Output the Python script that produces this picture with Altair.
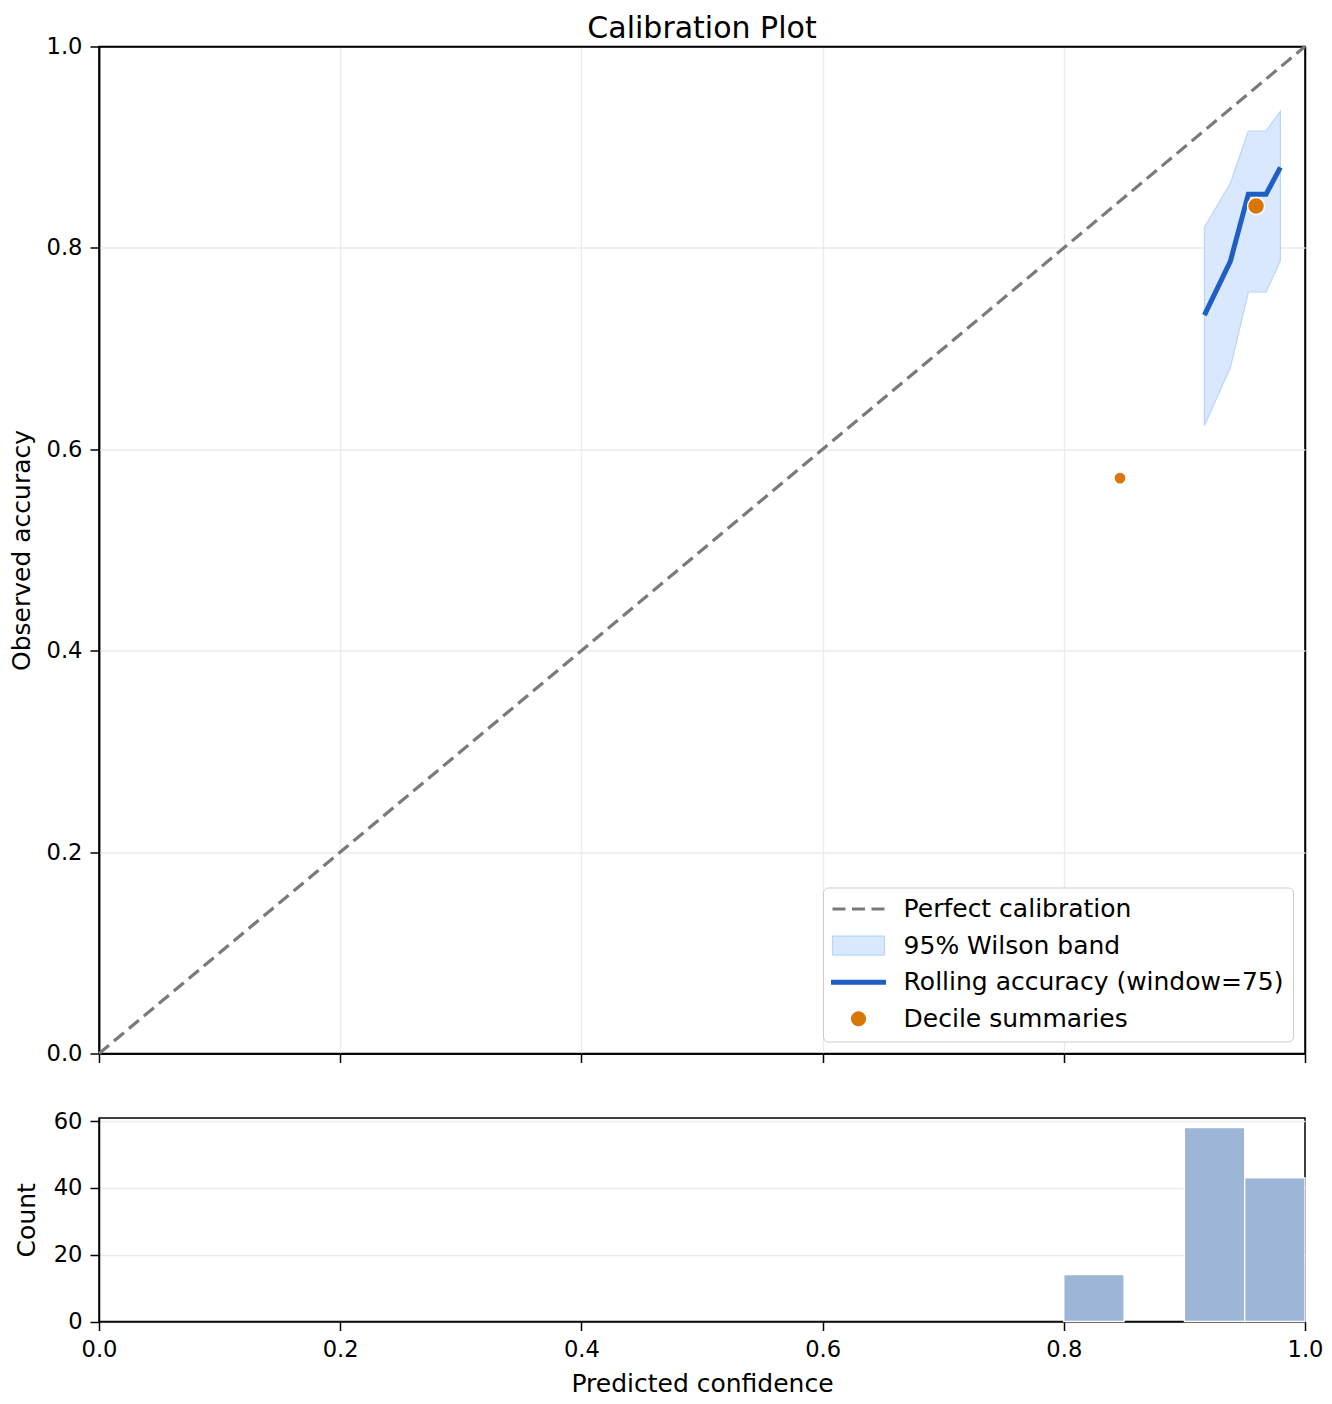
import altair as alt
import pandas as pd

# ---------------- data ----------------
series = ["Perfect calibration", "95% Wilson band",
          "Rolling accuracy (window=75)", "Decile summaries"]

diag_x = [0.0, 1.0]
diag_y = [0.0, 1.0]

roll_conf = [0.9166, 0.9381, 0.9530, 0.9677, 0.9796]
roll_acc = [0.7333, 0.7867, 0.8533, 0.8533, 0.8800]
wilson_lo = [0.6237, 0.6812, 0.7562, 0.7562, 0.7874]
wilson_hi = [0.8203, 0.8642, 0.9161, 0.9161, 0.9356]

decile_conf = [0.8466, 0.9594]
decile_acc = [0.5714, 0.8416]
decile_n = [14, 101]

bin_start = [0.80, 0.90, 0.95]
bin_end = [0.85, 0.95, 1.00]
bin_count = [14, 58, 43]

tick_vals = [0.0, 0.2, 0.4, 0.6, 0.8, 1.0]
count_ticks = [0, 20, 40, 60]

# ---------------- styling ----------------
FONT = "DejaVu Sans"
GRAY = "#7a7a7a"
BAND_FILL = "#d9e8fc"
BAND_EDGE = "#b9d5f8"
BLUE = "#1f5fc4"
ORANGE = "#d97706"
HIST = "#9db5d6"
GRID = "#ebebeb"

diag_df = pd.DataFrame({"x": diag_x, "y": diag_y})
roll_df = pd.DataFrame({"x": roll_conf, "y": roll_acc, "lo": wilson_lo, "hi": wilson_hi})
dec_df = pd.DataFrame({"x": decile_conf, "y": decile_acc, "n": decile_n})
hist_df = pd.DataFrame({"x": bin_start, "x2": bin_end, "count": bin_count})
leg_df = pd.DataFrame({"series": series})

# grid lines on the frame edges are drawn black so they act as the spines
edge_color = {"condition": {"test": "datum.value >= 0.999 || datum.value <= 0.001", "value": "black"},
              "value": GRID}
edge_width = {"condition": {"test": "datum.value >= 0.999 || datum.value <= 0.001", "value": 1.5},
              "value": 1.3}


def xenc(field="x"):
    return alt.X(f"{field}:Q", scale=alt.Scale(domain=[0, 1], nice=False, zero=False),
                 axis=alt.Axis(values=tick_vals, labels=False, title=None, grid=True,
                               gridColor=edge_color, gridWidth=edge_width))


def yenc(field="y"):
    return alt.Y(f"{field}:Q", scale=alt.Scale(domain=[0, 1], nice=False, zero=False),
                 axis=alt.Axis(values=tick_vals, format=".1f", title="Observed accuracy",
                               grid=True, titlePadding=11.4,
                               gridColor=edge_color, gridWidth=edge_width))


band = alt.Chart(roll_df).mark_area(color=BAND_FILL, stroke=BAND_EDGE, strokeWidth=1.2,
                                    opacity=1).encode(
    x=xenc(), y=yenc("lo"), y2="hi:Q")

diag = alt.Chart(diag_df).mark_line(color=GRAY, strokeDash=[13, 6.5], strokeWidth=3.2).encode(
    x=xenc(), y=yenc())

roll = alt.Chart(roll_df).mark_line(color=BLUE, strokeWidth=5).encode(
    x=xenc(), y=yenc())

dots = alt.Chart(dec_df).mark_point(filled=True, shape="circle", fill=ORANGE, stroke="white",
                                    strokeWidth=1.5, opacity=1).encode(
    x=xenc(), y=yenc(),
    size=alt.Size("n:Q", scale=alt.Scale(domain=[14, 101], range=[150, 290]), legend=None))

line_path = "M-2.75,0H2.75"
dash_path = "M-2.6,0H2.6"
rect_path = "M-2.6,-0.95H2.6V0.95H-2.6Z"
circ_path = "M-0.75,0A0.75,0.75,0,1,1,0.75,0A0.75,0.75,0,1,1,-0.75,0Z"

leg_layer = alt.Chart(leg_df).mark_point(opacity=0).encode(
    fill=alt.Fill("series:N", scale=alt.Scale(domain=series,
                  range=["transparent", BAND_FILL, "transparent", ORANGE]),
                  legend=alt.Legend(title=None)),
    stroke=alt.Stroke("series:N", scale=alt.Scale(domain=series,
                      range=[GRAY, BAND_EDGE, BLUE, ORANGE]),
                      legend=alt.Legend(title=None)),
    shape=alt.Shape("series:N", scale=alt.Scale(domain=series,
                    range=[dash_path, rect_path, line_path, circ_path]),
                    legend=alt.Legend(title=None)),
    strokeDash=alt.StrokeDash("series:N", scale=alt.Scale(domain=series,
                              range=[[13, 6.5], [1, 0], [1, 0], [1, 0]]),
                              legend=alt.Legend(title=None)),
    strokeWidth=alt.StrokeWidth("series:N", scale=alt.Scale(type="ordinal", domain=series,
                                range=[3.2, 1.2, 5, 0]),
                                legend=alt.Legend(title=None)),
)

main = alt.layer(band, diag, roll, dots, leg_layer).properties(
    width=1206, height=1007,
    title=alt.TitleParams("Calibration Plot", anchor="middle", frame="group",
                          fontSize=30, font=FONT, fontWeight="normal", color="black", offset=-8.4),
)

hist = alt.Chart(hist_df).mark_rect(color=HIST, stroke="white", strokeWidth=1.3).encode(
    x=alt.X("x:Q", scale=alt.Scale(domain=[0, 1], nice=False, zero=False),
            axis=alt.Axis(values=tick_vals, format=".1f", title="Predicted confidence", grid=False)),
    x2="x2:Q",
    y=alt.Y("count:Q", scale=alt.Scale(domain=[0, 60.9], nice=False),
            axis=alt.Axis(values=count_ticks, title="Count", grid=True, titlePadding=13.6)),
    y2=alt.datum(0),
).properties(width=1206, height=203.5)

chart = alt.vconcat(main, hist, spacing=64.5, bounds="flush").resolve_scale(
    fill="independent", stroke="independent", shape="independent",
    strokeDash="independent", strokeWidth="independent", size="independent",
).resolve_legend(
    fill="independent", stroke="independent", shape="independent",
    strokeDash="independent", strokeWidth="independent", size="independent",
).configure(
    font=FONT,
    padding={"left": 0, "top": 4.5, "right": 0, "bottom": 0},
).configure_view(
    stroke="black", strokeWidth=1.5,
).configure_axis(
    domainColor="black", domainWidth=1.5, tickColor="black", tickWidth=1.5, tickSize=9,
    labelFont=FONT, labelFontSize=22.6, labelColor="black", labelPadding=8, labelFlush=False,
    titleFont=FONT, titleFontSize=25, titleFontWeight="normal", titleColor="black",
    titlePadding=10, gridColor=GRID, gridWidth=1.3,
).configure_legend(
    orient="bottom-right", offset=12, padding=9, fillColor="white", strokeColor="#cccccc",
    cornerRadius=5, labelFont=FONT, labelFontSize=25, labelColor="black",
    symbolSize=400, symbolOffset=14, labelOffset=32.6, rowPadding=10.6,
    symbolOpacity=1, symbolFillColor="transparent", symbolStrokeColor="black",
    symbolStrokeWidth=2, labelLimit=600,
)

chart.save("out.html", embed_options={"renderer": "svg", "actions": False})
